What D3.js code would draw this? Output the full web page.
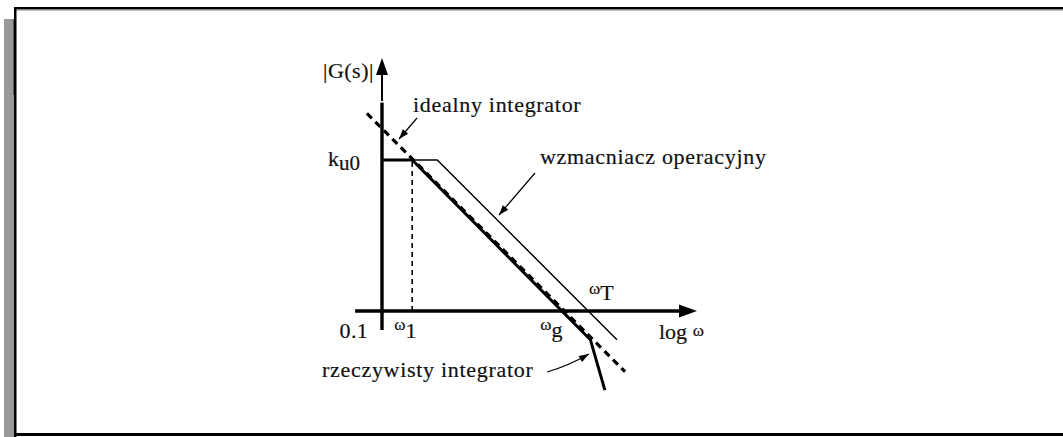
<!DOCTYPE html>
<html>
<head>
<meta charset="utf-8">
<script src="https://cdn.jsdelivr.net/npm/d3@7"></script>
<style>
  html, body { margin: 0; padding: 0; background: #fff; }
  svg { display: block; }
  text { font-family: "Liberation Serif", "Times New Roman", serif; fill: #111; stroke: #111; stroke-width: 0.2; }
</style>
</head>
<body>
<svg id="chart" width="1063" height="437"></svg>
<script>
// Asymptotic Bode magnitude plot: x = log10(omega), y = log10|G(s)|
const kLevel = 5;                       // log10 k_u0
const omegaMarkers = [-1, 0, 5];        // 0.1, omega_1, omega_g
const tickLabels = ["0.1", "ω1", "ωg"];

const opAmp = [[-1, 5], [0.83, 5], [6.78, -0.95]];                     // wzmacniacz operacyjny
const realIntegrator = [[-1, 5], [0, 5], [5.9, -0.95], [6.38, -2.62]]; // rzeczywisty integrator
const idealIntegrator = [[-1.5, 6.54], [7.05, -2.01]];                 // idealny integrator
const omega1Guide = [[0, 0], [0, 5]];

const xAxisSpan = [-1.89, 9.43];
const yAxisSpan = [-0.63, 8.38];

const svg = d3.select("#chart");

// page frame
svg.append("rect").attr("x", 4).attr("y", 19).attr("width", 10).attr("height", 418).attr("fill", "#999");
svg.append("rect").attr("x", 13).attr("y", 19).attr("width", 2).attr("height", 76).attr("fill", "#555");
svg.append("rect").attr("x", 14).attr("y", 7).attr("width", 1049).attr("height", 2.5).attr("fill", "#000");
svg.append("rect").attr("x", 14).attr("y", 9.5).attr("width", 1049).attr("height", 1).attr("fill", "#888");
svg.append("rect").attr("x", 14).attr("y", 7).attr("width", 2.5).attr("height", 430).attr("fill", "#000");
svg.append("rect").attr("x", 14).attr("y", 433).attr("width", 1049).attr("height", 3).attr("fill", "#000");

const x = d3.scaleLinear().domain([-1, 9.43]).range([382, 697]);
const y = d3.scaleLinear().domain([0, 5]).range([311, 160]);
const line = d3.line().x(d => x(d[0])).y(d => y(d[1]));

const g = svg.append("g");

// axes with arrowheads
const ax0 = x(omegaMarkers[0]);
g.append("line").attr("x1", ax0).attr("x2", ax0)
  .attr("y1", y(yAxisSpan[0])).attr("y2", y(6.9))
  .attr("stroke", "#000").attr("stroke-width", 3.4);
g.append("line").attr("x1", ax0).attr("x2", ax0)
  .attr("y1", y(6.95)).attr("y2", y(yAxisSpan[1]) + 10)
  .attr("stroke", "#000").attr("stroke-width", 2);
const yt = y(yAxisSpan[1]);
g.append("path").attr("d", `M${ax0},${yt} L${ax0 - 6},${yt + 17} L${ax0 + 6},${yt + 17} Z`).attr("fill", "#000");

g.append("line").attr("x1", x(xAxisSpan[0])).attr("x2", x(xAxisSpan[1]) - 10)
  .attr("y1", y(0)).attr("y2", y(0))
  .attr("stroke", "#000").attr("stroke-width", 3.4);
const xt = x(xAxisSpan[1]);
g.append("path").attr("d", `M${xt},${y(0)} L${xt - 18},${y(0) - 6.5} L${xt - 18},${y(0) + 6.5} Z`).attr("fill", "#000");

// omega_1 guide
g.append("path").attr("d", line(omega1Guide)).attr("fill", "none")
  .attr("stroke", "#000").attr("stroke-width", 1.6).attr("stroke-dasharray", "5,4");

// curves
g.append("path").attr("d", line(opAmp)).attr("fill", "none")
  .attr("stroke", "#000").attr("stroke-width", 1.5);
g.append("path").attr("d", line(realIntegrator)).attr("fill", "none")
  .attr("stroke", "#000").attr("stroke-width", 3).attr("stroke-linejoin", "miter");
g.append("path").attr("d", line(idealIntegrator)).attr("fill", "none")
  .attr("stroke", "#000").attr("stroke-width", 3.2).attr("stroke-dasharray", "7,5");

// text helpers
const fs = 22;
function label(px, py, str, opts = {}) {
  return g.append("text").attr("x", px).attr("y", py)
    .attr("font-size", opts.size || fs)
    .attr("letter-spacing", opts.ls == null ? 0.7 : opts.ls)
    .attr("text-anchor", opts.anchor || "start")
    .text(str);
}

label(323, 78, "|G(s)|", { ls: 0.5 });
label(413, 112, "idealny integrator");
label(540, 164, "wzmacniacz operacyjny");
label(322, 377, "rzeczywisty integrator");

// k_u0
const kt = g.append("text").attr("x", 328).attr("y", y(kLevel) + 6).attr("font-size", fs);
kt.append("tspan").text("k");
kt.append("tspan").attr("dy", 4).attr("font-size", 21).text("u0");

// tick labels on the omega axis
label(x(omegaMarkers[0]) - 14, 338, tickLabels[0], { anchor: "end", ls: 0.3 });
const w1 = g.append("text").attr("x", x(omegaMarkers[1]) - 18).attr("y", 330).attr("font-size", 17);
w1.append("tspan").text(tickLabels[1][0]);
w1.append("tspan").attr("dy", 8).attr("font-size", fs).text(tickLabels[1].slice(1));
const wg = g.append("text").attr("x", x(omegaMarkers[2]) - 23).attr("y", 330).attr("font-size", 17);
wg.append("tspan").text(tickLabels[2][0]);
wg.append("tspan").attr("dy", 7).attr("font-size", fs).text(tickLabels[2].slice(1));

// omega_T at the op-amp crossing
const wT = g.append("text").attr("x", 589).attr("y", 294).attr("font-size", 17);
wT.append("tspan").text("ω");
wT.append("tspan").attr("dy", 6).attr("font-size", fs).text("T");

// axis title
const lg = g.append("text").attr("x", 659).attr("y", 339).attr("font-size", fs);
lg.append("tspan").text("log ");
lg.append("tspan").attr("font-size", 17).attr("dy", -3).text("ω");

// leader arrows
function arrow(x1, y1, x2, y2, curve) {
  const mx = (x1 + x2) / 2 + (curve ? curve[0] : 0);
  const my = (y1 + y2) / 2 + (curve ? curve[1] : 0);
  g.append("path").attr("d", `M${x1},${y1} Q${mx},${my} ${x2},${y2}`)
    .attr("fill", "none").attr("stroke", "#000").attr("stroke-width", 1.2);
  const ang = Math.atan2(y2 - my, x2 - mx);
  const L = 10, W = 3.5;
  const bx = x2 - L * Math.cos(ang), by = y2 - L * Math.sin(ang);
  g.append("path").attr("d",
    `M${x2},${y2} L${bx - W * Math.sin(ang)},${by + W * Math.cos(ang)} L${bx + W * Math.sin(ang)},${by - W * Math.cos(ang)} Z`)
    .attr("fill", "#000");
}
arrow(417, 118, 399, 139);
arrow(535, 173, 499, 215);
arrow(547, 372, 589, 354, [0, 3]);
</script>
</body>
</html>
